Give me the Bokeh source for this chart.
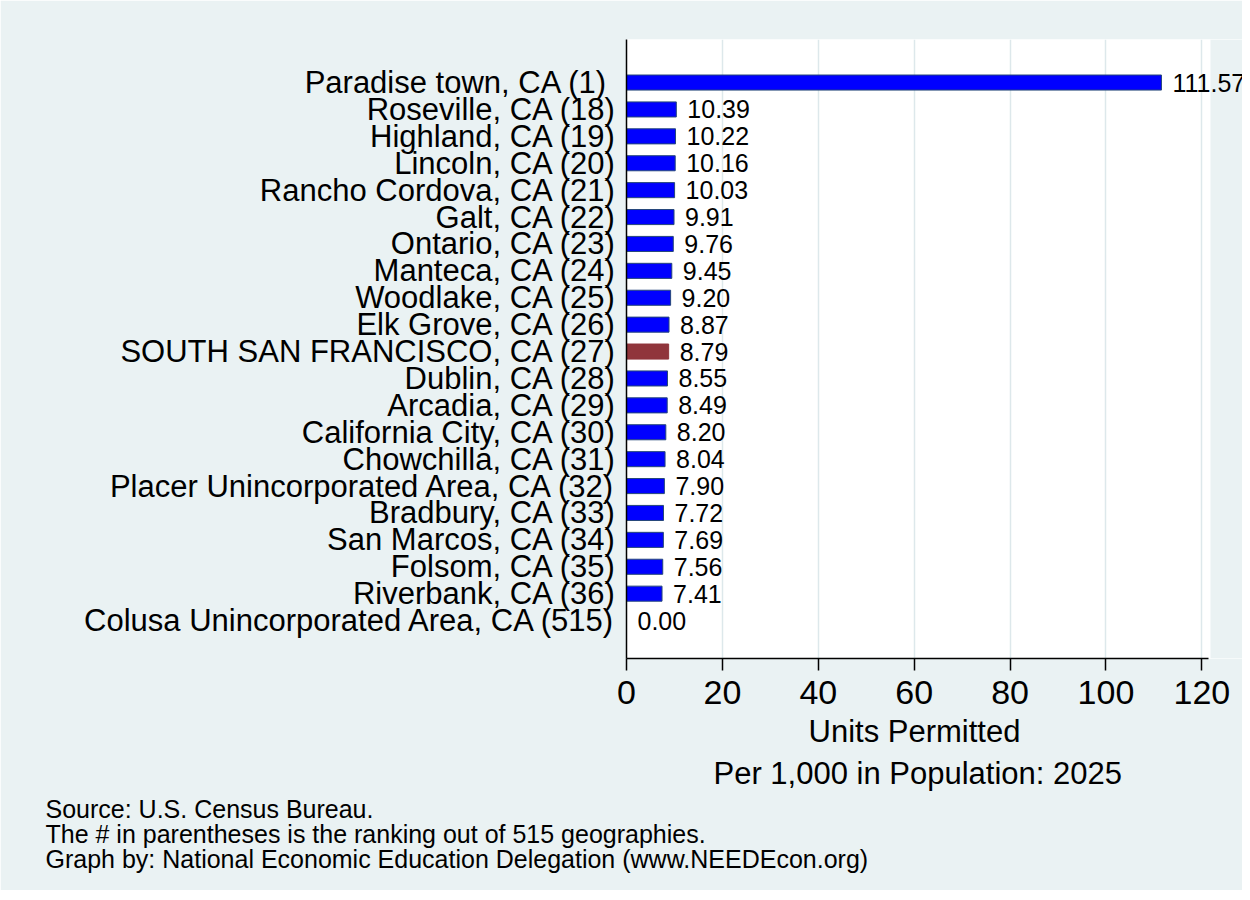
from bokeh.plotting import figure
from bokeh.models import ColumnDataSource, Range1d, FixedTicker, Label, Title, BoxAnnotation
from bokeh.embed import file_html
from bokeh.resources import INLINE

names = [
    "Paradise town, CA  (1)",
    "Roseville, CA (18)",
    "Highland, CA (19)",
    "Lincoln, CA (20)",
    "Rancho Cordova, CA (21)",
    "Galt, CA (22)",
    "Ontario, CA (23)",
    "Manteca, CA (24)",
    "Woodlake, CA (25)",
    "Elk Grove, CA (26)",
    "SOUTH SAN FRANCISCO, CA (27)",
    "Dublin, CA (28)",
    "Arcadia, CA (29)",
    "California City, CA (30)",
    "Chowchilla, CA (31)",
    "Placer Unincorporated Area, CA (32)",
    "Bradbury, CA (33)",
    "San Marcos, CA (34)",
    "Folsom, CA (35)",
    "Riverbank, CA (36)",
    "Colusa Unincorporated Area, CA (515)",
]
values = [111.57, 10.39, 10.22, 10.16, 10.03, 9.91, 9.76, 9.45, 9.20, 8.87,
          8.79, 8.55, 8.49, 8.20, 8.04, 7.90, 7.72, 7.69, 7.56, 7.41, 0.00]
highlight = "SOUTH SAN FRANCISCO, CA (27)"
x_ticks = [0, 20, 40, 60, 80, 100, 120]
x_title = ["Units Permitted", "Per 1,000 in Population: 2025"]
footer = [
    "Source: U.S. Census Bureau.",
    "The # in parentheses is the ranking out of 515 geographies.",
    "Graph by: National Economic Education Delegation (www.NEEDEcon.org)",
]

FONT = "Liberation Sans"
BG = "#eaf2f3"
BLUE = "#0000ff"
BLUE_EDGE = "#26477a"
RED = "#90353b"

W, H = 1242, 890
B_LEFT, B_TOP, B_BOTTOM = 626, 39, 232
PLOT_W = 584
PLOT_MAX = 121.8          # right edge of the white plot region
PX_PER_UNIT = PLOT_W / PLOT_MAX
X_MAX = (W - B_LEFT) / PX_PER_UNIT   # frame runs to the right edge; extra part is painted grey
Y_TOP_PAD, Y_BOT_PAD = 1.6, 1.41

pos = list(range(len(names)))
fills = [RED if n == highlight else BLUE for n in names]
edges = [RED if n == highlight else BLUE_EDGE for n in names]
src = ColumnDataSource(dict(y=pos, v=values, fill=fills, edge=edges))

y_start = len(names) - 1 + Y_BOT_PAD
y_end = -Y_TOP_PAD
p = figure(width=W, height=H, output_backend="svg", toolbar_location=None,
           x_range=Range1d(0, X_MAX), y_range=Range1d(y_start, y_end),
           min_border_left=B_LEFT, min_border_right=0,
           min_border_top=B_TOP, min_border_bottom=B_BOTTOM)
p.background_fill_color = "white"
p.border_fill_color = BG
p.outline_line_color = None

# grey strip to the right of the plot region
p.add_layout(BoxAnnotation(left=PLOT_MAX, fill_color=BG, fill_alpha=1,
                           line_color=None, level="underlay"))

p.hbar(y="y", right="v", left=0, height=0.56, source=src,
       fill_color="fill", line_color="edge", line_width=1)

for v, yy in zip(values, pos):
    p.add_layout(Label(x=v, y=yy, text="%.2f" % v, x_offset=11,
                       text_baseline="middle", text_align="left",
                       text_font=FONT, text_font_size="25px", text_color="black"))

# y axis
p.yaxis.ticker = FixedTicker(ticks=pos)
p.yaxis.major_label_overrides = {i: n for i, n in enumerate(names)}
p.yaxis.major_label_text_font = FONT
p.yaxis.major_label_text_font_size = "31px"
p.yaxis.major_label_text_color = "black"
p.yaxis.major_label_standoff = 10
p.yaxis.major_tick_out = 0
p.yaxis.major_tick_in = 0
p.yaxis.minor_tick_line_color = None
p.yaxis.axis_line_color = "black"
p.yaxis.axis_line_width = 1.5
p.ygrid.grid_line_color = None

# x axis
p.xaxis.ticker = FixedTicker(ticks=x_ticks)
p.xaxis.bounds = (0, PLOT_MAX - 0.4)
p.xaxis.major_label_text_font = FONT
p.xaxis.major_label_text_font_size = "34px"
p.xaxis.major_label_text_color = "black"
p.xaxis.major_label_standoff = 10
p.xaxis.major_tick_out = 12
p.xaxis.major_tick_in = 0
p.xaxis.major_tick_line_color = "black"
p.xaxis.major_tick_line_width = 1.5
p.xaxis.minor_tick_line_color = None
p.xaxis.axis_line_color = "black"
p.xaxis.axis_line_width = 1.5
p.xgrid.grid_line_color = "#dde8eb"
p.xgrid.grid_line_width = 1.5

# x-axis title, centred on the white plot region (not the grey strip)
for t, off, so in zip(x_title, [182, 87], [10, 0]):
    p.add_layout(Title(text=t, align="left", offset=off, standoff=so,
                       text_font=FONT, text_font_size="31px",
                       text_font_style="normal", text_color="black"), "below")

# footer notes, one block of three lines
p.add_layout(Title(text="\n".join(footer), align="left", offset=-581, standoff=6,
                   text_font=FONT, text_font_size="25px", text_line_height=0.895,
                   text_font_style="normal", text_color="black"), "below")

open("out.html", "w").write(file_html(p, INLINE))
